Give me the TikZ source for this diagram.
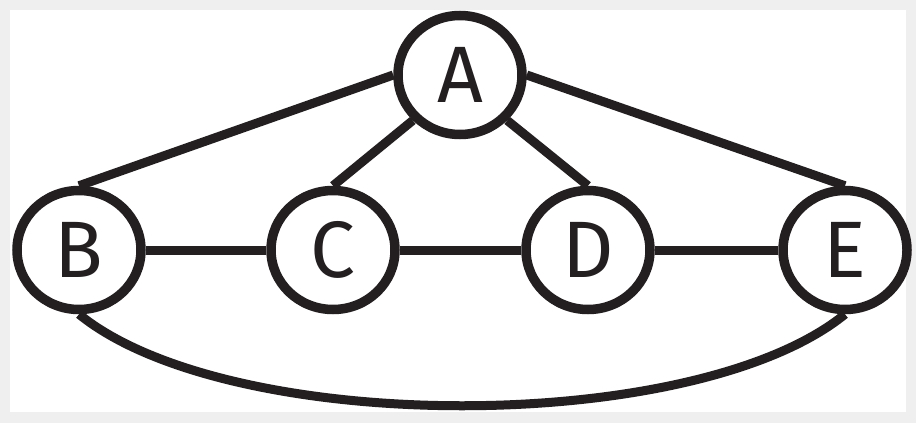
\documentclass[tikz,border=0pt]{standalone}
\usepackage{fontspec}
\setmainfont{Fira Sans}
\usetikzlibrary{shapes.geometric,backgrounds}
\definecolor{framegrey}{HTML}{EFEFEF}
\definecolor{ink}{HTML}{231F20}
\tikzset{
  vert/.style={ellipse, draw=ink, line width=9.5pt, fill=white, minimum width=124pt, minimum height=119pt, inner sep=0pt, font=\fontsize{80}{80}\selectfont, text=ink},
  edge/.style={draw=ink, line width=9pt}
}
\begin{document}
\begin{tikzpicture}[x=1pt,y=-1pt]
\useasboundingbox (0,0) rectangle (916,423);
\node[vert] (A) at (460,75) {A};
\node[vert] (B) at (79,250) {B};
\node[vert] (C) at (333,250) {C};
\node[vert] (D) at (588,250) {D};
\node[vert] (E) at (845,250) {E};
\begin{pgfonlayer}{background}
\fill[framegrey] (0,0) rectangle (916,423);
\fill[white] (10,10) rectangle (906,412);
\path[edge] (A.west) -- (B.north);
\path[edge] (A.south west) -- (C.north);
\path[edge] (A.south east) -- (D.north);
\path[edge] (A.east) -- (E.north);
\path[edge] (B) -- (C);
\path[edge] (C) -- (D);
\path[edge] (D) -- (E);
\path[edge] (B.south) .. controls +(150,122) and +(-150,122) .. (E.south);
\end{pgfonlayer}
\end{tikzpicture}
\end{document}
